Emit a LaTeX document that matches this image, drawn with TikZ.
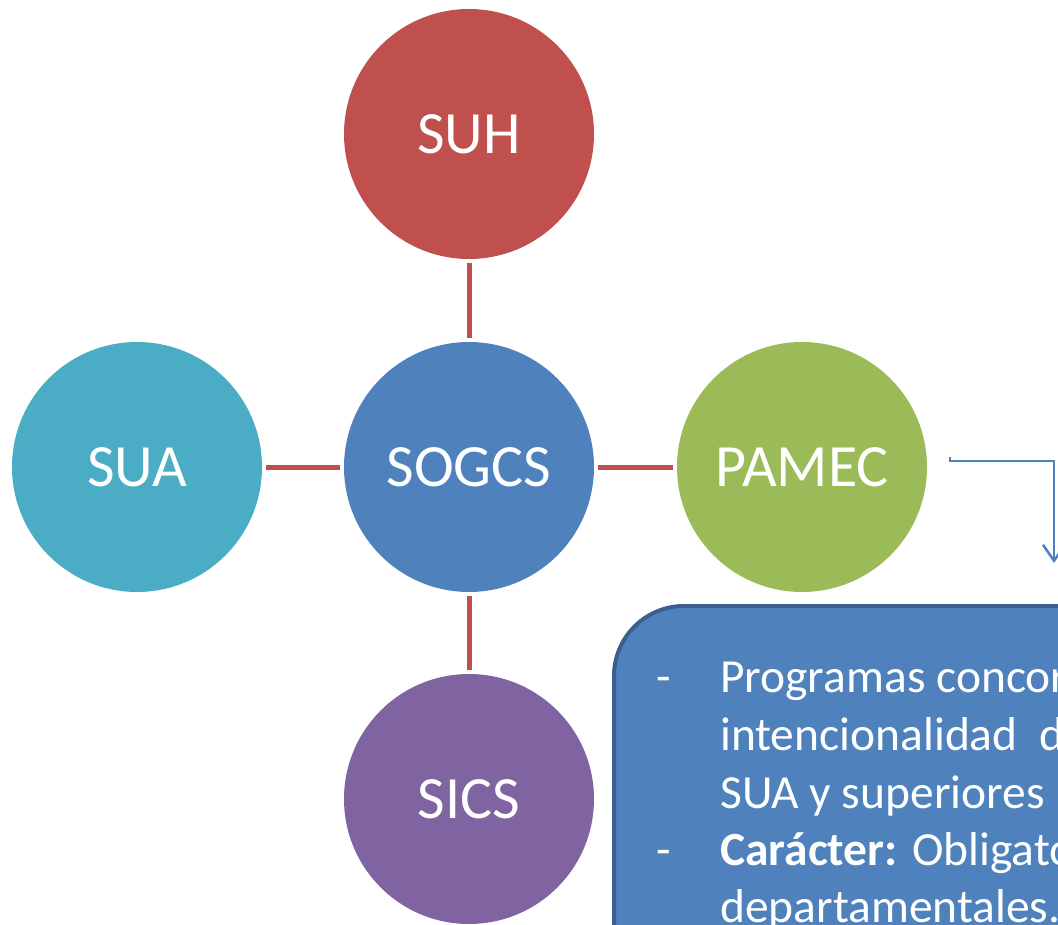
\documentclass[tikz,border=0pt]{standalone}
\usepackage{fontspec}
\setmainfont{Carlito}
\usetikzlibrary{arrows.meta}
\definecolor{cRed}{HTML}{C0504D}
\definecolor{cBlue}{HTML}{4F81BD}
\definecolor{cTeal}{HTML}{4BACC6}
\definecolor{cGreen}{HTML}{9BBB59}
\definecolor{cPurple}{HTML}{8064A2}
\definecolor{cBorder}{HTML}{3A5F8E}
\tikzset{
  hub/.style={circle, minimum size=250pt, inner sep=0pt, draw=none,
    text=white, font=\fontsize{60}{72}\selectfont},
  link/.style={draw=cRed, line width=5pt, shorten <=4pt, shorten >=4pt},
  flow/.style={draw=cBlue, line width=2.5pt,
    -{Straight Barb[length=16pt,width=22pt,line width=2.5pt]}},
  infobox/.style={fill=cBlue, draw=cBorder, line width=4pt, rounded corners=70pt},
  boxtext/.style={anchor=base west, inner sep=0pt, text=white,
    font=\fontsize{47.5}{57}\selectfont}
}
\begin{document}
\begin{tikzpicture}[x=1pt,y=-1pt]
\useasboundingbox (0,0) rectangle (1058,925);
\begin{scope}
\clip (0,0) rectangle (1058,925);

% the five systems
\node[hub, fill=cRed]    (suh)   at (469,134) {SUH};
\node[hub, fill=cBlue]   (sogcs) at (469,467) {SOGCS};
\node[hub, fill=cTeal]   (sua)   at (137,467) {SUA};
\node[hub, fill=cGreen]  (pamec) at (802,467) {PAMEC};
\node[hub, fill=cPurple] (sics)  at (469,799) {SICS};

% links to the central system
\draw[link] (suh) -- (sogcs);
\draw[link] (sua) -- (sogcs);
\draw[link] (sogcs) -- (pamec);
\draw[link] (sogcs) -- (sics);

% description panel
\draw[infobox] (614,606) rectangle (1140,1010);

% elbow arrow from PAMEC down to the panel
\coordinate (pstart) at (950,457);
\coordinate (pend) at (1054,563);
\draw[flow] (pstart) -- ++(0,4) -| (pend);

\node[boxtext] (d1) at (656,692) {-};
\node[boxtext] (l1) at (720,692) {Programas concordantes};
\node[boxtext] (l2) at (720,750) {intencionalidad\ \ de};
\node[boxtext] (l3) at (720,808) {SUA y superiores};
\node[boxtext] (d2) at (656,865) {-};
\node[boxtext] (l4) at (720,865) {\textbf{Carácter:} Obligatorio};
\node[boxtext] (l5) at (720,922) {departamentales.};
\end{scope}
\end{tikzpicture}
\end{document}
